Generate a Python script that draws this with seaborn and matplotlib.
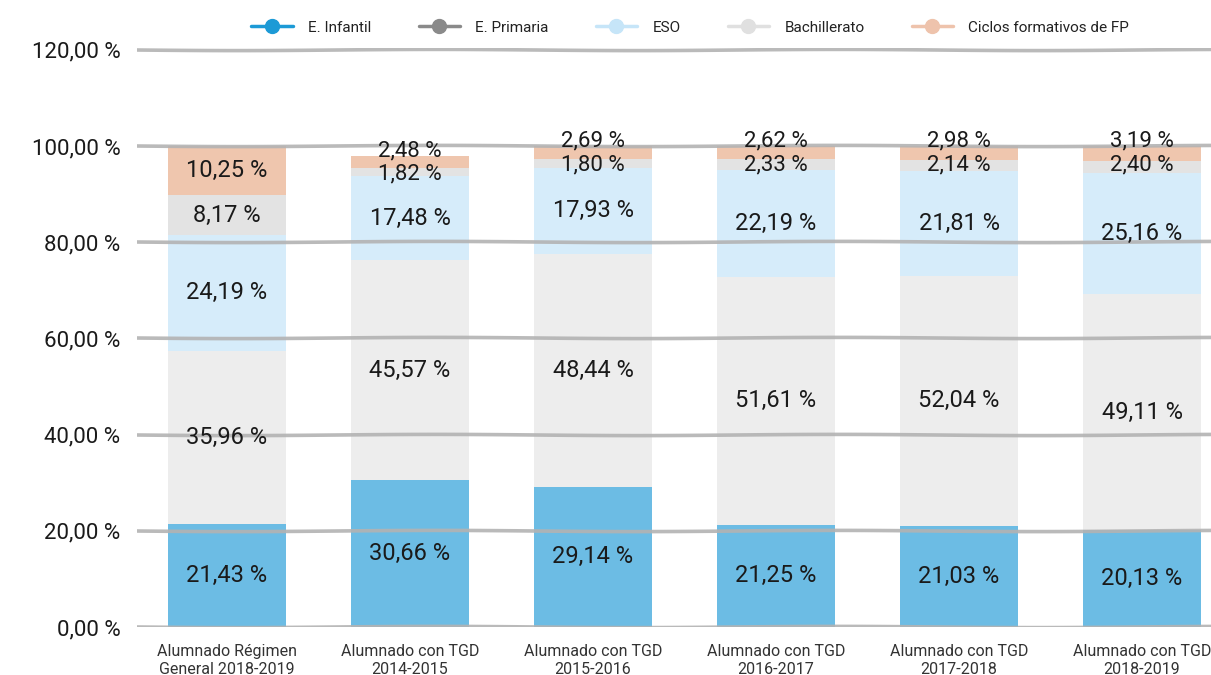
import matplotlib
matplotlib.use("Agg")
import matplotlib.pyplot as plt
from matplotlib.lines import Line2D
import numpy as np
import pandas as pd
import seaborn as sns

categories = ["Alumnado Régimen\nGeneral 2018-2019", "Alumnado con TGD\n2014-2015",
              "Alumnado con TGD\n2015-2016", "Alumnado con TGD\n2016-2017",
              "Alumnado con TGD\n2017-2018", "Alumnado con TGD\n2018-2019"]
levels = ["E. Infantil", "E. Primaria", "ESO", "Bachillerato", "Ciclos formativos de FP"]
infantil = [21.43, 30.66, 29.14, 21.25, 21.03, 20.13]
primaria = [35.96, 45.57, 48.44, 51.61, 52.04, 49.11]
eso = [24.19, 17.48, 17.93, 22.19, 21.81, 25.16]
bachillerato = [8.17, 1.82, 1.80, 2.33, 2.14, 2.40]
fp = [10.25, 2.48, 2.69, 2.62, 2.98, 3.19]
yticks = [0, 20, 40, 60, 80, 100, 120]

bar_colors = ["#6cbce4", "#ededed", "#d6ecfa", "#e3e3e3", "#efc6ae"]
legend_colors = ["#1c9ad6", "#8a8a8a", "#c6e5f8", "#e0e0e0", "#eec3ac"]

sns.set_theme(style="white")
plt.rcParams['font.family'] = ['Roboto', 'DejaVu Sans']

series = [infantil, primaria, eso, bachillerato, fp]
df = pd.DataFrame({"cat": categories})
for name, vals in zip(levels, series):
    df[name] = vals
cum = np.cumsum(np.array(series), axis=0)

fig = plt.figure(figsize=(12.11, 6.75), dpi=100)
ax = fig.add_axes([0.1131, 0.0711, 0.8869, 0.8578])

# stacked bars: draw the totals first, then cover them with the lower sums
for i in range(len(levels) - 1, -1, -1):
    sns.barplot(x=categories, y=cum[i], color=bar_colors[i], width=0.645,
                saturation=1, linewidth=0, ax=ax, zorder=1 + (len(levels) - i) * 0.1)

for y in yticks:
    ln = ax.axhline(y, color="#b3b3b3", lw=2.6, zorder=3, alpha=0.9)
    ln.set_sketch_params(scale=0.6, length=400, randomness=1)

for j in range(len(categories)):
    for i in range(len(levels)):
        v = series[i][j]
        mid = cum[i][j] - v / 2
        size = 17
        # small top segments: labels stacked above each other
        if i == 4 and v < 5:
            mid = cum[4][j] + 1.0
            size = 16
        if i == 3 and v < 5:
            mid = cum[4][j] + 1.0 - 4.9
            size = 16
        ax.text(j, mid, f"{v:.2f} %".replace(".", ","), ha="center", va="center",
                fontsize=size, color="#1a1a1a", zorder=5)

ax.set_xlim(-0.492, 5.377)
ax.set_ylim(0, 120.4)
ax.set_yticks(yticks)
ax.set_yticklabels([f"{t:.2f} %".replace(".", ",") for t in yticks],
                   fontsize=16, color="#1a1a1a")
ax.tick_params(axis="y", length=0, pad=12)
ax.tick_params(axis="x", length=0, pad=12, labelsize=11.5, labelcolor="#333333")
for lab in ax.get_xticklabels():
    lab.set_linespacing(1.3)
ax.set_xlabel("")
ax.set_ylabel("")
sns.despine(ax=ax, left=True, bottom=True)
ax.grid(False)

handles = [Line2D([0], [0], color=c, lw=2.5, marker="o", markersize=10) for c in legend_colors]
fig.legend(handles, levels, loc="upper center", bbox_to_anchor=(0.57, 0.99), ncol=5,
           frameon=False, fontsize=11, handlelength=2.7, handletextpad=1.0,
           columnspacing=3.1, labelcolor="#222222")

fig.savefig("out.png", dpi=100)
